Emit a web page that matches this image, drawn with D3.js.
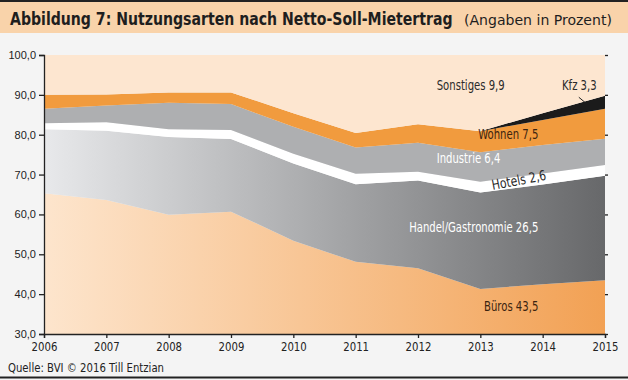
<!DOCTYPE html>
<html>
<head>
<meta charset="utf-8">
<script src="https://cdn.jsdelivr.net/npm/d3@7"></script>
<style>
  body { margin: 0; background: #f4f4f4; }
  svg { display: block; }
  .narrow { font-family: "Liberation Sans Narrow", "DejaVu Sans Condensed", "Noto Sans", sans-serif; }
</style>
</head>
<body>
<div class="chart"></div>
<script>
let width = 628
let height = 380

// shares in percent
let years = [2006, 2007, 2008, 2009, 2010, 2011, 2012, 2013, 2014, 2015]
let keys = ['Bueros', 'Handel', 'Hotels', 'Industrie', 'Wohnen', 'Kfz', 'Sonstiges']
let bueros    = [65.3, 63.6, 59.9, 60.7, 53.4, 48.1, 46.5, 41.3, 42.5, 43.5]
let handel    = [16.1, 17.4, 19.5, 18.2, 19.4, 19.5, 22.0, 24.2, 25.0, 26.2]
let hotels    = [ 1.5,  2.1,  2.0,  2.3,  2.4,  2.6,  2.2,  2.7,  2.8,  2.7]
let industrie = [ 3.6,  4.2,  6.6,  6.5,  6.8,  6.6,  7.3,  7.4,  7.1,  6.6]
let wohnen    = [ 3.5,  2.8,  2.6,  2.9,  3.4,  3.6,  4.6,  5.3,  6.3,  7.5]
let kfz       = [ 0.0,  0.0,  0.0,  0.0,  0.0,  0.0,  0.0,  0.0,  1.7,  3.3]
let sonstiges = [10.0,  9.9,  9.4,  9.4, 14.6, 19.6, 17.4, 19.1, 14.6, 10.2]
let yTicks = [30, 40, 50, 60, 70, 80, 90, 100]

let rows = years.map((yr, i) => ({
    year: yr,
    Bueros: bueros[i], Handel: handel[i], Hotels: hotels[i], Industrie: industrie[i],
    Wohnen: wohnen[i], Kfz: kfz[i], Sonstiges: sonstiges[i]
}))

let x = d3.scaleLinear().domain([2006, 2015]).range([44, 605])
let y = d3.scaleLinear().domain([30, 100]).range([334, 55])

// squeeze text horizontally, the original uses a condensed face
function squeeze(sel, f) {
    sel.each(function() {
        let w = this.getComputedTextLength()
        d3.select(this).attr('textLength', w * f).attr('lengthAdjust', 'spacingAndGlyphs')
    })
}
// same idea, but with a transform so the box shrinks too
function fitWidth(sel, px, py, target) {
    sel.each(function() {
        let w = this.getComputedTextLength()
        d3.select(this).attr('transform', `translate(${px},${py}) scale(${target / w},1)`)
    })
}

let svg = d3.select('div.chart')
    .append('svg')
    .attr('width', width)
    .attr('height', height)

svg.append('rect')
    .attr('width', width).attr('height', height)
    .style('fill', '#f4f4f4')

// title band
svg.append('rect')
    .attr('x', 0).attr('y', 2).attr('width', width).attr('height', 31)
    .style('fill', '#f9d3aa')
svg.append('line')
    .attr('x1', 0).attr('x2', width).attr('y1', 1).attr('y2', 1)
    .style('stroke', '#222').style('stroke-width', 2)
svg.append('text')
    .attr('class', 'narrow')
    .style('font-weight', 'bold').style('font-size', '18px').style('fill', '#1e1e1e')
    .text('Abbildung 7: Nutzungsarten nach Netto-Soll-Mietertrag')
    .call(fitWidth, 10, 25, 443)
svg.append('text')
    .attr('class', 'narrow')
    .style('font-size', '14px').style('fill', '#1e1e1e')
    .text('(Angaben in Prozent)')
    .call(fitWidth, 464, 25, 148)

// gradients for the two big layers
let defs = svg.append('defs')
let gB = defs.append('linearGradient').attr('id', 'gBueros')
    .attr('gradientUnits', 'userSpaceOnUse')
    .attr('x1', x(2006)).attr('x2', x(2015)).attr('y1', 0).attr('y2', 0)
gB.append('stop').attr('offset', 0).attr('stop-color', '#fde5cd')
gB.append('stop').attr('offset', 1).attr('stop-color', '#f2a154')
let gH = defs.append('linearGradient').attr('id', 'gHandel')
    .attr('gradientUnits', 'userSpaceOnUse')
    .attr('x1', x(2006)).attr('x2', x(2015)).attr('y1', 0).attr('y2', 0)
gH.append('stop').attr('offset', 0).attr('stop-color', '#e8e9eb')
gH.append('stop').attr('offset', 1).attr('stop-color', '#67686a')
defs.append('clipPath').attr('id', 'plotClip')
    .append('rect')
    .attr('x', x(2006)).attr('y', y(100))
    .attr('width', x(2015) - x(2006)).attr('height', y(30) - y(100))

let colors = {
    Bueros: 'url(#gBueros)', Handel: 'url(#gHandel)', Hotels: '#ffffff',
    Industrie: '#aeafb1', Wohnen: '#f19b3e', Kfz: '#1b1b1b', Sonstiges: '#fde6d0'
}

let stacked = d3.stack().keys(keys)(rows)
let area = d3.area()
    .x(d => x(d.data.year))
    .y0(d => y(d[0]))
    .y1(d => y(d[1]))

svg.append('g')
    .attr('clip-path', 'url(#plotClip)')
    .selectAll('path')
    .data(stacked)
    .enter()
    .append('path')
    .attr('d', area)
    .style('fill', d => colors[d.key])

// axes
let fmt = d => d3.format('.1f')(d).replace('.', ',')
let yAxis = svg.append('g')
    .attr('transform', `translate(${x(2006)},0)`)
    .call(d3.axisLeft(y).tickValues(yTicks).tickFormat(fmt).tickSize(5).tickPadding(3))
yAxis.selectAll('text')
    .style('font-family', '"Liberation Sans", Arial, sans-serif')
    .style('font-size', '11px').style('fill', '#222')

svg.append('g')
    .attr('transform', `translate(${x(2015)},0)`)
    .call(d3.axisRight(y).tickValues(yTicks).tickFormat('').tickSize(3))
    .call(g => g.select('.domain').remove())

let xAxis = svg.append('g')
    .attr('transform', `translate(0,${y(30)})`)
    .call(d3.axisBottom(x).tickValues(years).tickFormat(d3.format('d')).tickSize(4).tickPadding(4))
xAxis.selectAll('text')
    .attr('class', 'narrow')
    .style('font-size', '12.5px').style('fill', '#222')
    .call(squeeze, 0.9)

svg.selectAll('.domain, .tick line').style('stroke', '#222').style('stroke-width', 1.3)

// layer labels
let labels = [
    { text: 'Sonstiges 9,9', yr: 2012.3, v: 91.2, anchor: 'start', color: '#2a2a2a' },
    { text: 'Kfz 3,3', yr: 2014.31, v: 91.2, anchor: 'start', color: '#2a2a2a' },
    { text: 'Wohnen 7,5', yr: 2013.93, v: 78.8, anchor: 'end', color: '#3b2410' },
    { text: 'Industrie  6,4', yr: 2012.3, v: 72.8, anchor: 'start', color: '#ffffff' },
    { text: 'Handel/Gastronomie 26,5', yr: 2013.93, v: 55.7, anchor: 'end', color: '#ffffff' },
    { text: 'Büros 43,5', yr: 2013.93, v: 35.8, anchor: 'end', color: '#3b2410' }
]
svg.selectAll('text.layer')
    .data(labels)
    .enter()
    .append('text')
    .attr('class', 'layer narrow')
    .attr('x', d => x(d.yr))
    .attr('y', d => y(d.v))
    .attr('text-anchor', d => d.anchor)
    .style('font-size', '14px')
    .style('fill', d => d.color)
    .text(d => d.text)
    .call(squeeze, 0.8)

svg.append('text')
    .attr('class', 'narrow')
    .attr('transform', `translate(${x(2013.2)},${y(66.1)}) rotate(-11)`)
    .style('font-size', '14px').style('fill', '#2a2a2a')
    .text('Hotels 2,6')
    .call(squeeze, 0.86)

svg.append('line')
    .attr('x1', x(2014.58)).attr('y1', y(89.4))
    .attr('x2', x(2014.68)).attr('y2', y(88.1))
    .style('stroke', '#222').style('stroke-width', 1)

// source + bottom rule
svg.append('text')
    .attr('class', 'narrow')
    .attr('x', 8).attr('y', 372)
    .attr('textLength', 156).attr('lengthAdjust', 'spacingAndGlyphs')
    .style('font-size', '13px').style('fill', '#222')
    .text('Quelle: BVI © 2016 Till Entzian')
svg.append('line')
    .attr('x1', 0).attr('x2', width).attr('y1', 377.5).attr('y2', 377.5)
    .style('stroke', '#222').style('stroke-width', 2)
</script>
</body>
</html>
